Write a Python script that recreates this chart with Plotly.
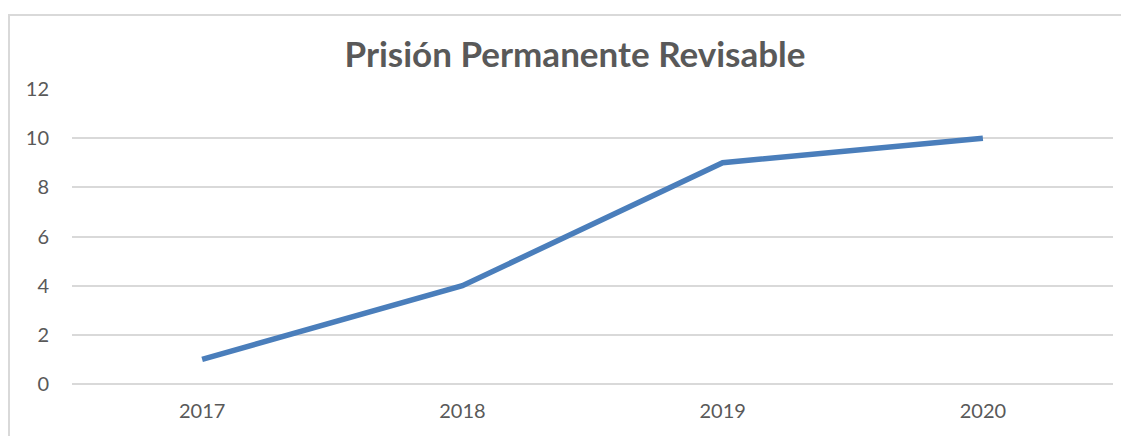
import plotly.graph_objects as go

years = ["2017", "2018", "2019", "2020"]
values = [1, 4, 9, 10]
y_ticks = [0, 2, 4, 6, 8, 10, 12]

# page body has an 8px margin; figure placed at (8, 8) in the window
W, H = 1121, 428
L, R, T, B = 64, 16, 81, 52
PW, PH = W - L - R, H - T - B

fig = go.Figure()
fig.add_trace(go.Scatter(
    x=years, y=values, mode="lines",
    line=dict(color="#4A7EBB", width=5.5),
    hoverinfo="skip", showlegend=False,
))

font_family = "Lato, 'Open Sans', sans-serif"
fig.update_layout(
    width=W, height=H,
    margin=dict(l=L, r=R, t=T, b=B),
    paper_bgcolor="white", plot_bgcolor="white",
    title=dict(
        text="<b>Prisión Permanente Revisable</b>",
        x=567 / W, xref="container", xanchor="center",
        y=1 - 47 / H, yref="container", yanchor="middle",
        font=dict(family=font_family, size=35, color="#595959"),
    ),
    xaxis=dict(
        type="category", range=[-0.5, 3.5],
        showgrid=False, showline=False, zeroline=False,
        ticks="", ticklabelstandoff=13,
        tickfont=dict(family=font_family, size=20, color="#595959"),
    ),
    yaxis=dict(
        range=[0, 12], tickvals=y_ticks,
        showgrid=True, gridcolor="#D9D9D9", gridwidth=1.5,
        zeroline=True, zerolinecolor="#D9D9D9", zerolinewidth=1.5,
        showline=False, ticks="", ticklabelstandoff=22,
        tickfont=dict(family=font_family, size=20, color="#595959"),
    ),
    shapes=[dict(
        type="rect", xref="paper", yref="paper",
        x0=(1 - L) / PW, x1=(W + 200 - L) / PW,
        y0=-(B + 200) / PH,
        y1=1 + (T - 7) / PH,
        line=dict(color="#D9D9D9", width=2), fillcolor="rgba(0,0,0,0)",
        layer="below",
    )],
)

fig.write_html("out.html")
